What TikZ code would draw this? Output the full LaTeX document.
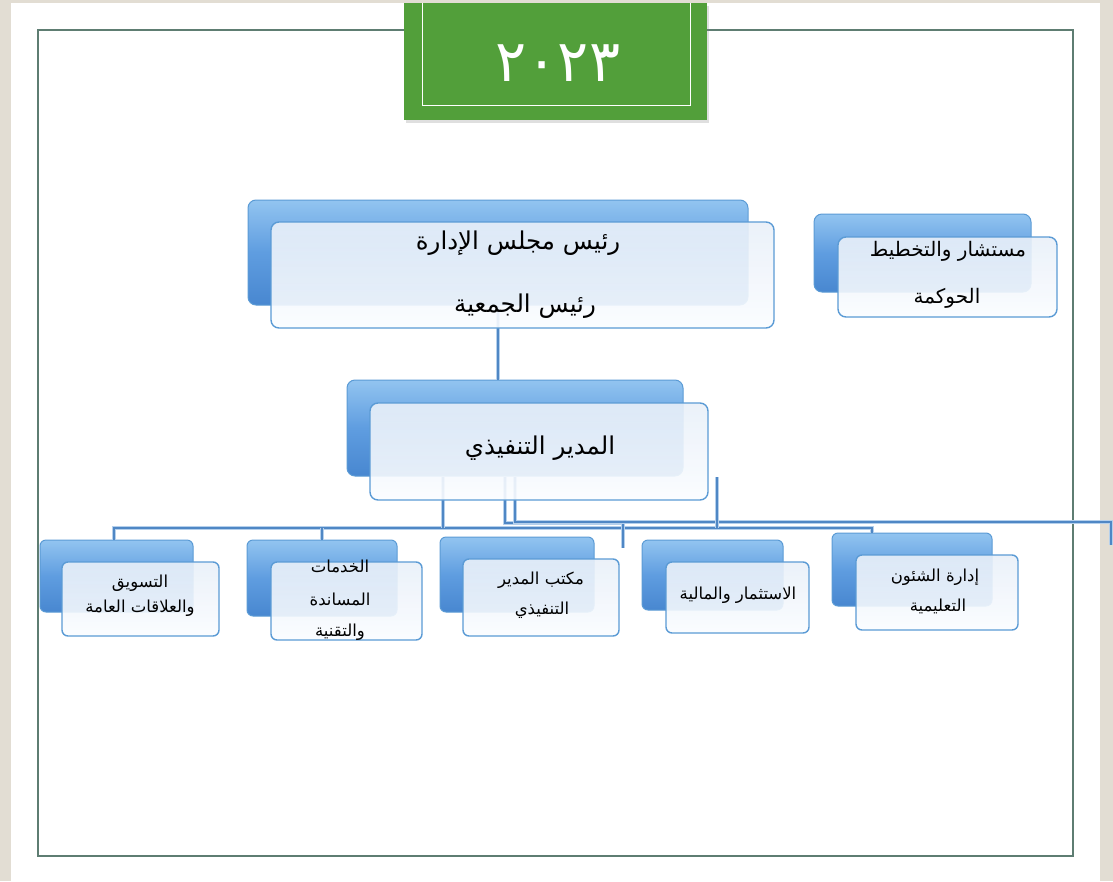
\documentclass[tikz,border=0pt]{standalone}
\usepackage{fontspec}
\newfontfamily\arabicfont[Script=Arabic]{DejaVu Sans}
\TeXXeTstate=1
\usetikzlibrary{shadows}
\definecolor{pagegray}{HTML}{E2DDD3}
\definecolor{framecol}{HTML}{5E7D72}
\definecolor{titlegreen}{HTML}{529F3A}
\definecolor{backtop}{HTML}{92C4F0}
\definecolor{backmid}{HTML}{5F9DE0}
\definecolor{backbot}{HTML}{4887D0}
\definecolor{bord}{HTML}{5B9BD5}
\definecolor{fronttop}{HTML}{E9F0F9}
\definecolor{frontbot}{HTML}{FBFDFF}
\definecolor{linecol}{HTML}{4F87C5}
\definecolor{lineglow}{HTML}{B5D0EC}
\newcommand\artxt[1]{{\arabicfont\beginR #1\endR}}
\tikzset{
  backbox/.style={draw=bord, line width=1pt, rounded corners=8pt, inner sep=0pt,
    top color=backtop, bottom color=backbot, middle color=backmid},
  frontbox/.style={draw=bord, line width=1.4pt, rounded corners=8pt, inner sep=0pt,
    top color=fronttop, bottom color=frontbot, fill opacity=0.9},
  conn/.style={draw=linecol, line width=1.6pt,
    preaction={draw=lineglow, line width=3.4pt}},
  bigtxt/.style={inner sep=0pt, font=\fontsize{24.5}{28}\selectfont},
  midtxt/.style={inner sep=0pt, font=\fontsize{20}{24}\selectfont},
  smalltxt/.style={inner sep=0pt, font=\fontsize{16.5}{20}\selectfont},
}
\begin{document}
\begin{tikzpicture}[x=1pt,y=-1pt]
\useasboundingbox (0,0) rectangle (1113,881);
% page
\fill[pagegray] (0,0) rectangle (1113,881);
\fill[white] (11,3) rectangle (1100,881);
\draw[framecol, line width=1.5pt] (38,30) rectangle (1073,856);
% title
\node[fill=titlegreen, minimum width=303pt, minimum height=117pt, inner sep=0pt,
  drop shadow={opacity=0.25, shadow xshift=2pt, shadow yshift=-3pt}] (title) at (555.5,61.5) {};
\draw[white, line width=1pt] (422,3) -- (422,105) -- (690,105) -- (690,3);
\node[inner sep=0pt, text=white, font=\arabicfont\fontsize{58}{64}\selectfont] (year) at (558,63) {٢٠٢٣};
% coordinates
\coordinate (busL) at (114,528);
\coordinate (busR) at (872,528);
\coordinate (d1) at (443,528);
\coordinate (j1) at (505,523);
\coordinate (j2) at (623,523);
\coordinate (j3) at (623,548);
\coordinate (k1) at (515,522);
\coordinate (k2) at (1111,522);
\coordinate (k3) at (1111,545);
\coordinate (m0) at (717,477);
\coordinate (m1) at (717,528);
% back boxes
\node[backbox, minimum width=500pt, minimum height=105pt] (topb) at (498,252.5) {};
\node[backbox, minimum width=217pt, minimum height=78pt] (advb) at (922.5,253) {};
\node[backbox, minimum width=336pt, minimum height=96pt] (dirb) at (515,428) {};
\node[backbox, rounded corners=6pt, minimum width=153pt, minimum height=72pt] (b1b) at (116.5,576) {};
\node[backbox, rounded corners=6pt, minimum width=150pt, minimum height=76pt] (b2b) at (322,578) {};
\node[backbox, rounded corners=6pt, minimum width=154pt, minimum height=75pt] (b3b) at (517,574.5) {};
\node[backbox, rounded corners=6pt, minimum width=141pt, minimum height=70pt] (b4b) at (712.5,575) {};
\node[backbox, rounded corners=6pt, minimum width=160pt, minimum height=73pt] (b5b) at (912,569.5) {};
% connectors
\draw[conn] (topb.south) -- (topb.south |- dirb.north);
\draw[conn] (b1b.north -| busL) -- (busL) -- (busR) -- (busR |- b5b.north);
\draw[conn] (b2b.north) -- (b2b.north |- busL);
\draw[conn] (dirb.south -| d1) -- (d1);
\draw[conn] (dirb.south -| j1) -- (j1) -- (j2) -- (j3);
\draw[conn] (dirb.south -| k1) -- (k1) -- (k2) -- (k3);
\draw[conn] (m0) -- (m1);
% front boxes
\node[frontbox, minimum width=503pt, minimum height=106pt] (top) at (522.5,275) {};
\node[frontbox, minimum width=219pt, minimum height=80pt] (adv) at (947.5,277) {};
\node[frontbox, minimum width=338pt, minimum height=97pt] (dir) at (539,451.5) {};
\node[frontbox, rounded corners=6pt, minimum width=157pt, minimum height=74pt] (b1) at (140.5,599) {};
\node[frontbox, rounded corners=6pt, minimum width=151pt, minimum height=78pt] (b2) at (346.5,601) {};
\node[frontbox, rounded corners=6pt, minimum width=156pt, minimum height=77pt] (b3) at (541,597.5) {};
\node[frontbox, rounded corners=6pt, minimum width=143pt, minimum height=71pt] (b4) at (737.5,597.5) {};
\node[frontbox, rounded corners=6pt, minimum width=162pt, minimum height=75pt] (b5) at (937,592.5) {};
% texts
\node[bigtxt] (t1a) at (518,243) {\artxt{رئيس مجلس الإدارة}};
\node[bigtxt] (t1b) at (525,306) {\artxt{رئيس الجمعية}};
\node[midtxt] (t2a) at (948,251) {\artxt{مستشار والتخطيط}};
\node[midtxt] (t2b) at (947,298) {\artxt{الحوكمة}};
\node[bigtxt] (t3) at (540,448) {\artxt{المدير التنفيذي}};
\node[smalltxt] (t4a) at (140,583) {\artxt{التسويق}};
\node[smalltxt] (t4b) at (140,608) {\artxt{والعلاقات العامة}};
\node[smalltxt] (t5a) at (340,566) {\artxt{الخدمات}};
\node[smalltxt] (t5b) at (340,599) {\artxt{المساندة}};
\node[smalltxt] (t5c) at (340,632) {\artxt{والتقنية}};
\node[smalltxt] (t6a) at (541,580) {\artxt{مكتب المدير}};
\node[smalltxt] (t6b) at (542,610) {\artxt{التنفيذي}};
\node[smalltxt] (t7) at (738,595) {\artxt{الاستثمار والمالية}};
\node[smalltxt] (t8a) at (935,577) {\artxt{إدارة الشئون}};
\node[smalltxt] (t8b) at (938,606) {\artxt{التعليمية}};
\end{tikzpicture}
\end{document}
